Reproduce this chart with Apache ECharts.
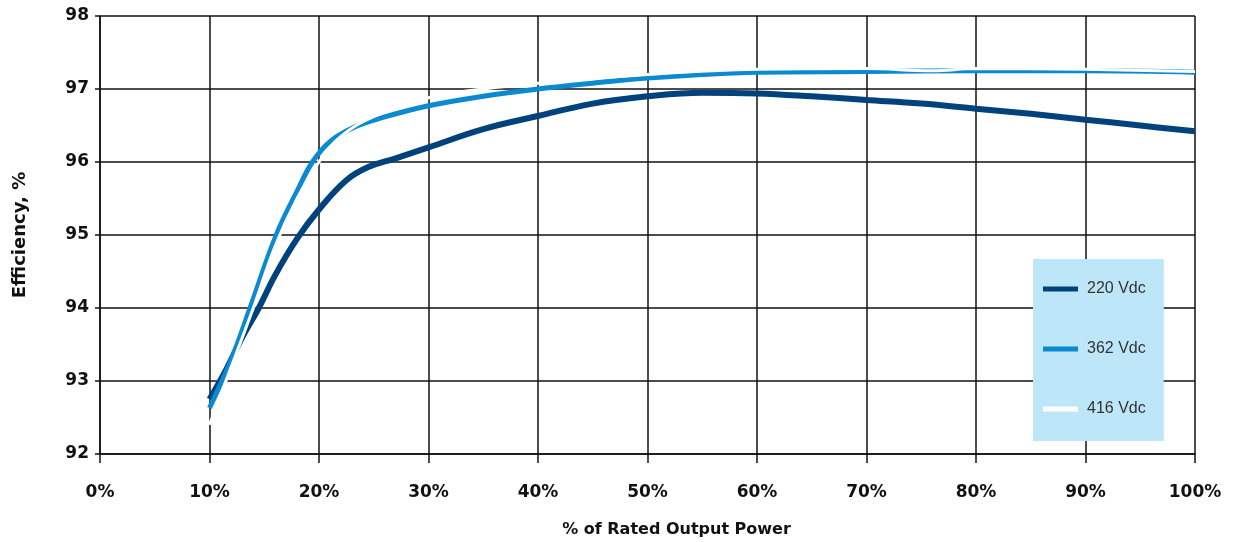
<!DOCTYPE html>
<html>
<head>
<meta charset="utf-8">
<script src="https://cdn.jsdelivr.net/npm/echarts@6/dist/echarts.min.js"></script>
<style>
  html, body { margin: 0; padding: 0; background: #fff; }
  #chart { width: 1238px; height: 542px; }
</style>
</head>
<body>
<div id="chart"></div>
<script>
// % of rated output power
const load220 = [10, 11.5, 13, 14.5, 16, 18, 20, 22.5, 24.5, 27, 30, 35, 40, 45, 50, 55, 60, 65, 70, 75, 80, 85, 90, 95, 100]
const eff220 = [92.75, 93.15, 93.6, 94.0, 94.45, 94.95, 95.35, 95.75, 95.93, 96.05, 96.2, 96.45, 96.63, 96.8, 96.9, 96.95, 96.94, 96.9, 96.85, 96.8, 96.73, 96.66, 96.58, 96.5, 96.42]

const load362 = [10, 12, 13.7, 16.1, 18, 19.4, 21, 23.1, 25.6, 30, 35, 40, 45, 50, 55, 60, 70, 80, 90, 100]
const eff362 = [92.63, 93.3, 94.0, 95.0, 95.6, 96.0, 96.28, 96.47, 96.6, 96.77, 96.9, 97.0, 97.08, 97.15, 97.2, 97.23, 97.24, 97.25, 97.25, 97.23]

const load416 = [10, 12, 14, 16, 18, 20, 22, 25, 30, 35, 40, 50, 60, 70, 76, 80, 90, 100]
const eff416 = [92.4, 93.2, 94.0, 94.85, 95.5, 96.0, 96.35, 96.62, 96.88, 97.0, 97.08, 97.2, 97.27, 97.28, 97.25, 97.28, 97.27, 97.24]

const seriesNames = ['220 Vdc', '362 Vdc', '416 Vdc']
const seriesColors = ['#00427c', '#0a8ad0', '#ffffff']

const pairs = (xs, ys) => xs.map((x, i) => [x, ys[i]])

const chart = echarts.init(document.getElementById('chart'))

const labelFont = {
  fontFamily: 'DejaVu Sans, sans-serif',
  fontWeight: 'bold',
  fontSize: 17,
  color: '#111'
}

const option = {
  animation: false,
  backgroundColor: '#ffffff',
  grid: {
    left: 100,
    right: 43,
    top: 16,
    bottom: 88,
    outerBoundsMode: 'none',
    containLabel: false
  },
  legend: {
    orient: 'vertical',
    left: 1033,
    top: 259,
    backgroundColor: '#bde6f9',
    padding: [22, 18, 24, 10],
    itemGap: 44,
    itemWidth: 35,
    itemHeight: 5,
    icon: 'rect',
    data: seriesNames,
    textStyle: {
      fontFamily: 'Liberation Sans, Arial, sans-serif',
      fontSize: 16,
      color: '#333',
      padding: [0, 0, 0, 4]
    }
  },
  xAxis: {
    type: 'value',
    min: 0,
    max: 100,
    interval: 10,
    name: '% of Rated Output Power',
    nameLocation: 'middle',
    nameGap: 68,
    nameTextStyle: Object.assign({}, labelFont, { fontSize: 16, padding: [0, 0, 0, 58] }),
    axisLine: { show: true, lineStyle: { color: '#111', width: 1.5 } },
    axisTick: { show: true, inside: false, length: 9, lineStyle: { color: '#111', width: 1.5 } },
    axisLabel: Object.assign({ formatter: '{value}%', margin: 30 }, labelFont),
    splitLine: { show: true, lineStyle: { color: '#111', width: 1.5 } }
  },
  yAxis: {
    type: 'value',
    min: 92,
    max: 98,
    interval: 1,
    name: 'Efficiency, %',
    nameLocation: 'middle',
    nameGap: 71,
    nameTextStyle: Object.assign({}, labelFont, { fontSize: 18 }),
    axisLine: { show: true, lineStyle: { color: '#111', width: 1.5 } },
    axisTick: { show: true, inside: false, length: 5, lineStyle: { color: '#111', width: 1.5 } },
    axisLabel: Object.assign({ margin: 11 }, labelFont),
    splitLine: { show: true, lineStyle: { color: '#111', width: 1.5 } }
  },
  series: [
    {
      name: seriesNames[0],
      type: 'line',
      smooth: 0.4,
      showSymbol: false,
      color: seriesColors[0],
      lineStyle: { width: 6, color: seriesColors[0] },
      data: pairs(load220, eff220),
      z: 2
    },
    {
      name: seriesNames[1],
      type: 'line',
      smooth: 0.4,
      showSymbol: false,
      color: seriesColors[1],
      lineStyle: { width: 5, color: seriesColors[1] },
      data: pairs(load362, eff362),
      z: 3
    },
    {
      name: seriesNames[2],
      type: 'line',
      smooth: 0.4,
      showSymbol: false,
      color: seriesColors[2],
      lineStyle: { width: 3, color: seriesColors[2] },
      data: pairs(load416, eff416),
      z: 4
    }
  ]
}

chart.setOption(option)
</script>
</body>
</html>
